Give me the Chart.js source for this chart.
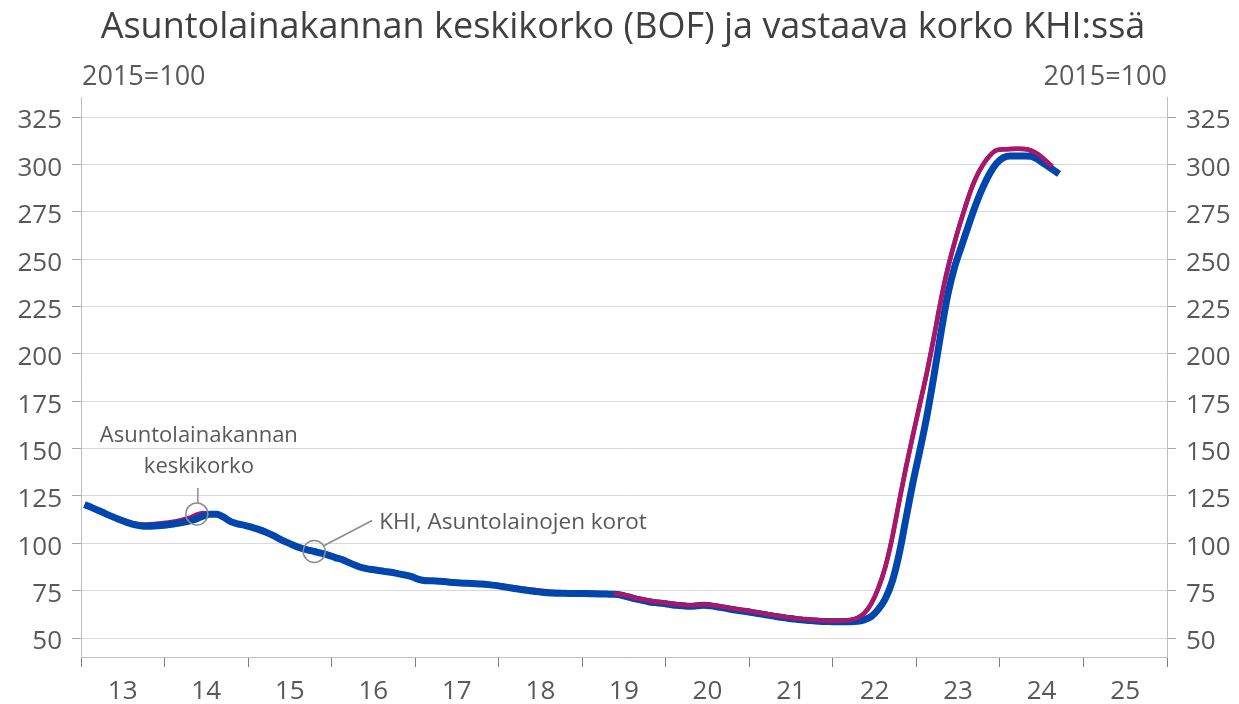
<!DOCTYPE html>
<html><head><meta charset="utf-8">
<script src="https://cdn.jsdelivr.net/npm/chart.js@4/dist/chart.umd.min.js"></script>
<style>html,body{margin:0;padding:0;background:#fff;}</style>
</head><body>
<canvas id="c" width="1239" height="704"></canvas>
<script>
// ---- data (monthly, Jan 2013 onwards), index 2015=100 ----
const startYear = 2013;
const khi = [
  120.5,119,117.3,115.7,114.1,112.6,111.2,110,109.3,109,109.1,109.4,
  109.8,110.3,110.9,111.7,112.8,114.3,115.4,115.3,113.8,111.5,110.3,109.5,
  108.5,107.4,106,104.3,102.4,100.6,99,97.6,96.6,95.7,94.8,93.8,
  92.5,91.5,89.8,88.3,87,86.3,85.8,85.2,84.7,84,83.3,82.4,
  81,80.3,80.2,80,79.7,79.3,79,78.9,78.7,78.5,78.2,77.8,
  77.2,76.6,76,75.5,75,74.5,74.1,73.8,73.6,73.6,73.5,73.5,
  73.5,73.4,73.3,73.2,73.1,72.7,71.8,70.8,70,69.2,68.7,68.3,
  67.8,67.3,67,66.8,67,67.3,67,66.4,65.8,65.1,64.5,64,
  63.4,62.8,62.2,61.6,61,60.5,60,59.6,59.3,59,58.8,58.7,
  58.6,58.6,58.6,58.8,59.6,61.3,65,70.5,79.5,94,113,132,
  149,167,188,210.5,231,246,257,268,278.5,287.5,295,300.5,
  303.6,304.5,304.5,304.5,304.3,302.5,300,297.5,295
];
const bof = [
  120,118.5,117,115.5,114,112.7,111.5,110.6,110.1,110,110.2,110.6,
  111,111.6,112.4,113.4,115,116,115.6,115,113.8,111.8,110.5,109.6,
  108.5,107.3,105.8,104,102.2,100.5,99,97.8,96.9,96.2,95.3,94.2,
  92.8,91.8,90,88.5,87.2,86.5,86,85.5,85,84.3,83.6,82.7,
  81.3,80.6,80.5,80.3,80,79.6,79.3,79.2,79,78.8,78.5,78.1,
  77.6,77.1,76.6,76.1,75.6,75.2,74.8,74.5,74.3,74.2,74.1,74,
  74,73.9,73.8,73.7,73.5,73.1,72.3,71.3,70.5,69.7,69.2,68.8,
  68.3,67.8,67.5,67.3,67.5,67.8,67.5,66.9,66.3,65.6,65,64.5,
  63.9,63.3,62.7,62.1,61.5,61,60.5,60.1,59.8,59.5,59.3,59.2,
  59.2,59.3,59.6,60.6,63,68,76,87,102.5,121.5,140,157,
  173.5,190,208.5,228,245,259,271.5,283,292.5,299.5,304.5,307.5,
  308,308.2,308.3,308.2,307.3,305.3,302.3,298.8
];
const yearTicks = [2013,2014,2015,2016,2017,2018,2019,2020,2021,2022,2023,2024,2025,2026];
const yearLabels = ['13','14','15','16','17','18','19','20','21','22','23','24','25',''];
const yTicks = [50,75,100,125,150,175,200,225,250,275,300,325];
const titleText = 'Asuntolainakannan keskikorko (BOF) ja vastaava korko KHI:ssä';
const unitText = '2015=100';
const labelBof = ['Asuntolainakannan','keskikorko'];
const labelKhi = 'KHI, Asuntolainojen korot';
const bofLabelIndex = 16;  // May 2014
const khiLabelIndex = 33;  // Oct 2015
const topLayerFrom = 76;   // from May 2019 the BOF line lies on top

const toPoints = arr => arr.map((v,i)=>({x: startYear + (i+0.5)/12, y: v}));
const bofPts = toPoints(bof);
const khiPts = toPoints(khi);

const BLUE = '#0046ad', MAG = '#a8176a';
const FONT = '"Open Sans", sans-serif';
Chart.defaults.font.family = FONT;
Chart.defaults.font.size = 26;
Chart.defaults.color = '#595959';

const deco = {
  id:'deco',
  afterDraw(chart){
    const ctx = chart.ctx;
    ctx.save();
    ctx.fillStyle = '#404040';
    ctx.font = '36px ' + FONT;
    ctx.textAlign = 'center'; ctx.textBaseline = 'alphabetic';
    ctx.fillText(titleText, 623, 38);
    ctx.fillStyle = '#595959';
    ctx.font = '27px ' + FONT;
    ctx.textAlign = 'left'; ctx.fillText(unitText, chart.chartArea.left + 1, 85);
    ctx.textAlign = 'right'; ctx.fillText(unitText, chart.chartArea.right, 85);
    // annotations
    ctx.strokeStyle = '#8c8c8c'; ctx.lineWidth = 1.5;
    const p1 = chart.getDatasetMeta(0).data[bofLabelIndex];
    const p2 = chart.getDatasetMeta(1).data[khiLabelIndex];
    ctx.beginPath(); ctx.arc(p1.x+1, p1.y-1, 11, 0, Math.PI*2); ctx.stroke();
    ctx.beginPath(); ctx.moveTo(p1.x+2, p1.y-12); ctx.lineTo(p1.x+2, p1.y-27); ctx.stroke();
    ctx.beginPath(); ctx.arc(p2.x, p2.y, 11, 0, Math.PI*2); ctx.stroke();
    ctx.beginPath(); ctx.moveTo(p2.x+10, p2.y-6); ctx.lineTo(p2.x+58, p2.y-31); ctx.stroke();
    ctx.font = '22px ' + FONT;
    ctx.textAlign = 'center';
    ctx.fillText(labelBof[0], p1.x+3, p1.y-73);
    ctx.fillText(labelBof[1], p1.x+3, p1.y-42);
    ctx.textAlign = 'left';
    ctx.font = '22.5px ' + FONT;
    ctx.fillText(labelKhi, p2.x+65, p2.y-22);
    ctx.restore();
  }
};

const yAxis = (pos, width, grid) => ({
  type:'linear', position:pos, min:40, max:335.6,
  afterBuildTicks: s => { s.ticks = yTicks.map(v=>({value:v})); },
  afterFit: s => { s.width = width; },
  ticks:{ padding:10, labelOffset:4, callback: v => String(v), font:{size:26} },
  grid:{ display:true, drawOnChartArea:grid, color:'#d9d9d9', lineWidth:1, tickLength:9, tickColor:'#a6a6a6' },
  border:{ display:true, color:'#bfbfbf' }
});

new Chart(document.getElementById('c'), {
  type:'line',
  data:{ datasets:[
    { data: bofPts, borderColor: MAG, borderWidth: 4.5, order: 3 },
    { data: khiPts, borderColor: BLUE, borderWidth: 7, order: 2 },
    { data: bofPts, borderColor: MAG, borderWidth: 4.5, order: 1,
      segment:{ borderColor: c => c.p0DataIndex >= topLayerFrom ? MAG : 'rgba(0,0,0,0)' } }
  ]},
  options:{
    responsive:false, animation:false, devicePixelRatio:1,
    layout:{ padding:{ top:97, left:0, right:0, bottom:0 } },
    plugins:{ legend:{display:false}, tooltip:{enabled:false}, title:{display:false} },
    elements:{ point:{ radius:0 }, line:{ cubicInterpolationMode:'monotone', borderCapStyle:'butt', borderJoinStyle:'round' } },
    scales:{
      x:{ type:'linear', position:'bottom', min:2013, max:2026,
        afterBuildTicks: s => { s.ticks = yearTicks.map(v=>({value:v})); },
        afterFit: s => { s.height = 47; },
        ticks:{ padding:9, labelOffset:41.7, maxRotation:0, autoSkip:false,
          callback: (v,i) => yearLabels[i], font:{size:26} },
        grid:{ display:true, drawOnChartArea:false, tickLength:10, tickColor:'#808080' },
        border:{ display:true, color:'#bfbfbf' }
      },
      y: yAxis('left', 81, true),
      y2: yAxis('right', 72, false)
    }
  },
  plugins:[deco]
});
</script>
</body></html>
